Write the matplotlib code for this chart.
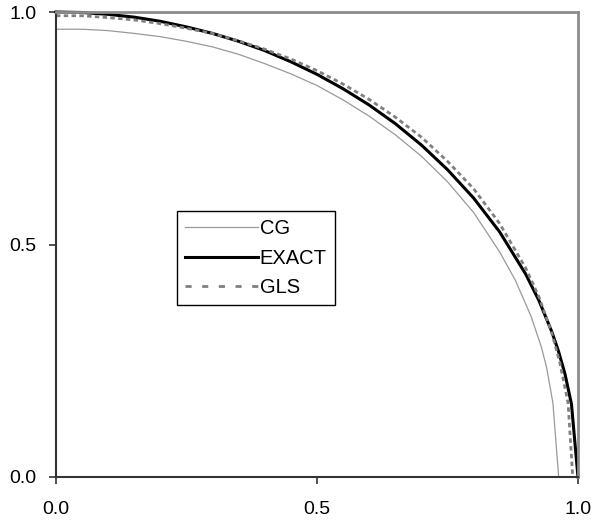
"Quarter circle comparison: CG, EXACT, GLS"

import matplotlib
matplotlib.use("Agg")
import matplotlib.pyplot as plt

plt.rcParams['font.family'] = ['Liberation Sans', 'DejaVu Sans']

###################
# points
exact_x = [0.0, 0.05, 0.1, 0.15, 0.2, 0.25, 0.3, 0.35, 0.4, 0.45, 0.5, 0.55, 0.6,
           0.65, 0.7, 0.75, 0.8, 0.85, 0.9, 0.925, 0.95, 0.9625, 0.975, 0.9875, 1.0]
exact_y = [1.0, 0.999, 0.995, 0.989, 0.980, 0.968, 0.954, 0.937, 0.917, 0.893, 0.866,
           0.835, 0.800, 0.760, 0.714, 0.661, 0.600, 0.527, 0.436, 0.380, 0.312,
           0.271, 0.222, 0.157, 0.0]

cg_x = [0.0, 0.05, 0.1, 0.15, 0.2, 0.25, 0.3, 0.35, 0.4, 0.45, 0.5, 0.55, 0.6,
        0.65, 0.7, 0.75, 0.8, 0.85, 0.88, 0.91, 0.93, 0.94, 0.952, 0.963]
cg_y = [0.963, 0.963, 0.960, 0.954, 0.947, 0.937, 0.925, 0.909, 0.889, 0.867, 0.842,
        0.811, 0.776, 0.736, 0.690, 0.635, 0.569, 0.484, 0.423, 0.346, 0.279, 0.235,
        0.159, 0.0]

gls_x = [0.0, 0.05, 0.1, 0.15, 0.2, 0.25, 0.3, 0.35, 0.4, 0.45, 0.5, 0.55, 0.6,
         0.65, 0.7, 0.75, 0.8, 0.85, 0.9, 0.925, 0.95, 0.965, 0.981, 0.99]
gls_y = [0.992, 0.992, 0.988, 0.983, 0.975, 0.965, 0.954, 0.938, 0.920, 0.899, 0.874,
         0.845, 0.812, 0.774, 0.731, 0.679, 0.620, 0.545, 0.449, 0.388, 0.309, 0.247,
         0.159, 0.0]

ticks = [0.0, 0.5, 1.0]
tick_labels = ["0.0", "0.5", "1.0"]

fig = plt.figure(figsize=(6, 5.23), dpi=100)
ax = fig.add_axes([0.0933, 0.088, 0.87, 0.889])

ax.plot(cg_x, cg_y, color="#999999", lw=0.9, label="CG", clip_on=False)
ax.plot(exact_x, exact_y, color="black", lw=2.2, label="EXACT", clip_on=False)
ax.plot(gls_x, gls_y, color="#808080", lw=2, ls=(0, (1.6, 1.2)), label="GLS", clip_on=False)

ax.set_xlim(0, 1)
ax.set_ylim(0, 1)
ax.set_xticks(ticks)
ax.set_xticklabels(tick_labels)
ax.set_yticks(ticks)
ax.set_yticklabels(tick_labels)
ax.tick_params(direction="out", length=5, width=1.2, color="#333333", labelsize=14)
ax.tick_params(axis="x", pad=12)
ax.tick_params(axis="y", pad=9)

# left/bottom axes dark, plot-area border gray
for side in ["left", "bottom"]:
    ax.spines[side].set_color("#333333")
    ax.spines[side].set_linewidth(1.5)
for side in ["top", "right"]:
    ax.spines[side].set_color("#8c8c8c")
    ax.spines[side].set_linewidth(2)

leg = ax.legend(loc="upper left", bbox_to_anchor=(0.232, 0.572), fontsize=14.5,
                handlelength=3.6, handletextpad=0.1, labelspacing=0.52,
                borderpad=0.4, borderaxespad=0, fancybox=False, framealpha=1)
leg.get_frame().set_edgecolor("black")
leg.get_frame().set_linewidth(1)
# legend dash pattern is sparser than on the curve
leg.get_lines()[2].set_linestyle((0, (2.2, 3.8)))

fig.savefig("out.png", dpi=100)
